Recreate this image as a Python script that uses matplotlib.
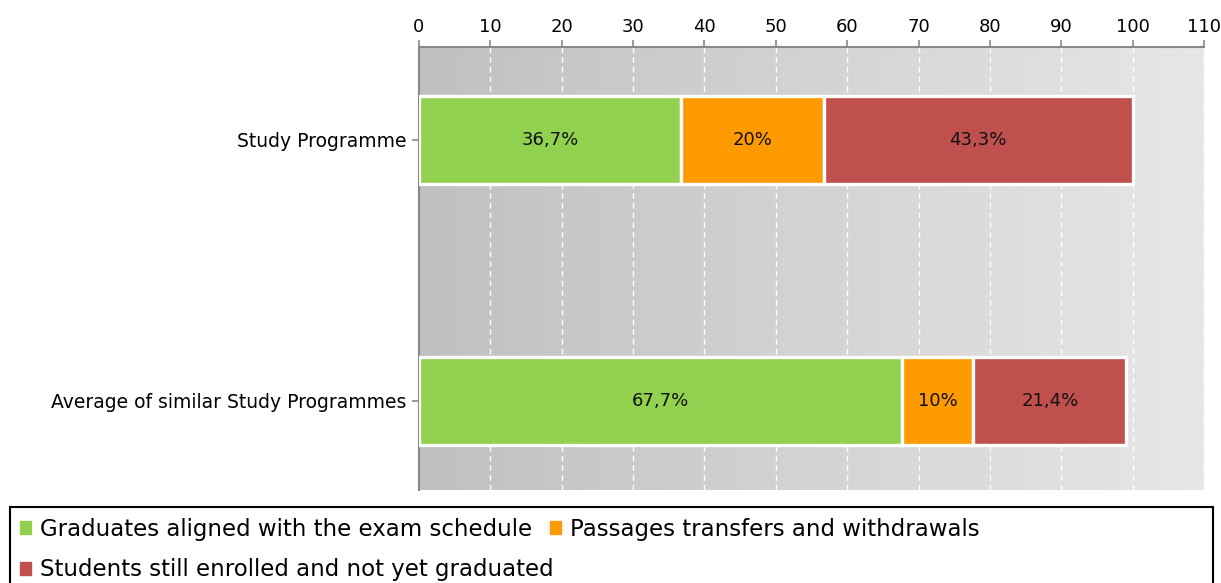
import numpy as np
import matplotlib
matplotlib.use("Agg")
import matplotlib.pyplot as plt
from matplotlib.patches import Patch, Rectangle
from matplotlib.colors import LinearSegmentedColormap

plt.rcParams['font.family'] = ['DejaVu Sans']

categories = ["Study Programme", "Average of similar Study Programmes"]
series_names = ["Graduates aligned with the exam schedule",
                "Passages transfers and withdrawals",
                "Students still enrolled and not yet graduated"]
graduates = [36.7, 67.7]
transfers = [20.0, 10.0]
enrolled = [43.3, 21.4]
colors = ["#92d050", "#ff9a00", "#c0504d"]
xticks = list(range(0, 111, 10))

W, H = 1221, 583
fig = plt.figure(figsize=(W/100, H/100), dpi=100)
ax = fig.add_axes([419/W, 1-490/H, (1204-419)/W, (490-47)/H])

ypos = [1, 0]
ax.set_xlim(0, 110)
ax.set_ylim(-0.341, 1.356)

grad = np.linspace(0, 1, 256).reshape(1, -1)
cmap = LinearSegmentedColormap.from_list("bg", ["#c0c0c0", "#e7e7e7"])
ax.imshow(grad, extent=[0, 110, -0.341, 1.356], aspect="auto", cmap=cmap, zorder=0)

for x in xticks[1:]:
    ax.axvline(x, color="white", lw=1.0, ls=(0, (4, 3)), zorder=1)

series = [graduates, transfers, enrolled]
left = np.zeros(len(categories))
for vals, col, name in zip(series, colors, series_names):
    vals = np.array(vals)
    bars = ax.barh(ypos, vals, left=left, height=0.335, color=col,
                   edgecolor="white", linewidth=2.4, zorder=3, label=name)
    for b, v in zip(bars, vals):
        txt = f"{v:g}".replace(".", ",") + "%"
        ax.text(b.get_x() + b.get_width()/2, b.get_y() + b.get_height()/2, txt,
                ha="center", va="center", fontsize=13, color="#111111", zorder=4)
    left = left + vals

ax.set_yticks(ypos)
ax.set_yticklabels(categories, fontsize=13.5)
ax.set_xticks(xticks)
ax.set_xticklabels([str(t) for t in xticks], fontsize=13)
ax.xaxis.tick_top()
ax.tick_params(axis="x", length=5, color="#888888", width=1.2, pad=3)
ax.tick_params(axis="y", length=5, color="#888888", width=1.2, pad=4)
for s in ["right", "bottom"]:
    ax.spines[s].set_visible(False)
for s in ["top", "left"]:
    ax.spines[s].set_color("#888888")
    ax.spines[s].set_linewidth(1.5)

# legend frame
fig.patches.append(Rectangle((10/W, -0.05), (1213-10)/W, 0.05 + (583-507)/H,
                             transform=fig.transFigure, fill=False,
                             edgecolor="black", linewidth=1.5, clip_on=False))

handles = [Patch(color=c) for c in colors]
leg_kw = dict(loc="upper left", frameon=False, fontsize=16.5,
              handlelength=0.5, handleheight=0.5, handletextpad=0.4,
              borderpad=0.2, labelspacing=0.77, borderaxespad=0)
fig.legend([handles[0], handles[2]], [series_names[0], series_names[2]],
           bbox_to_anchor=(15/W, 1-513/H), **leg_kw)
fig.legend([handles[1]], [series_names[1]],
           bbox_to_anchor=(545/W, 1-513/H), **leg_kw)

fig.savefig("out.png", dpi=100)
